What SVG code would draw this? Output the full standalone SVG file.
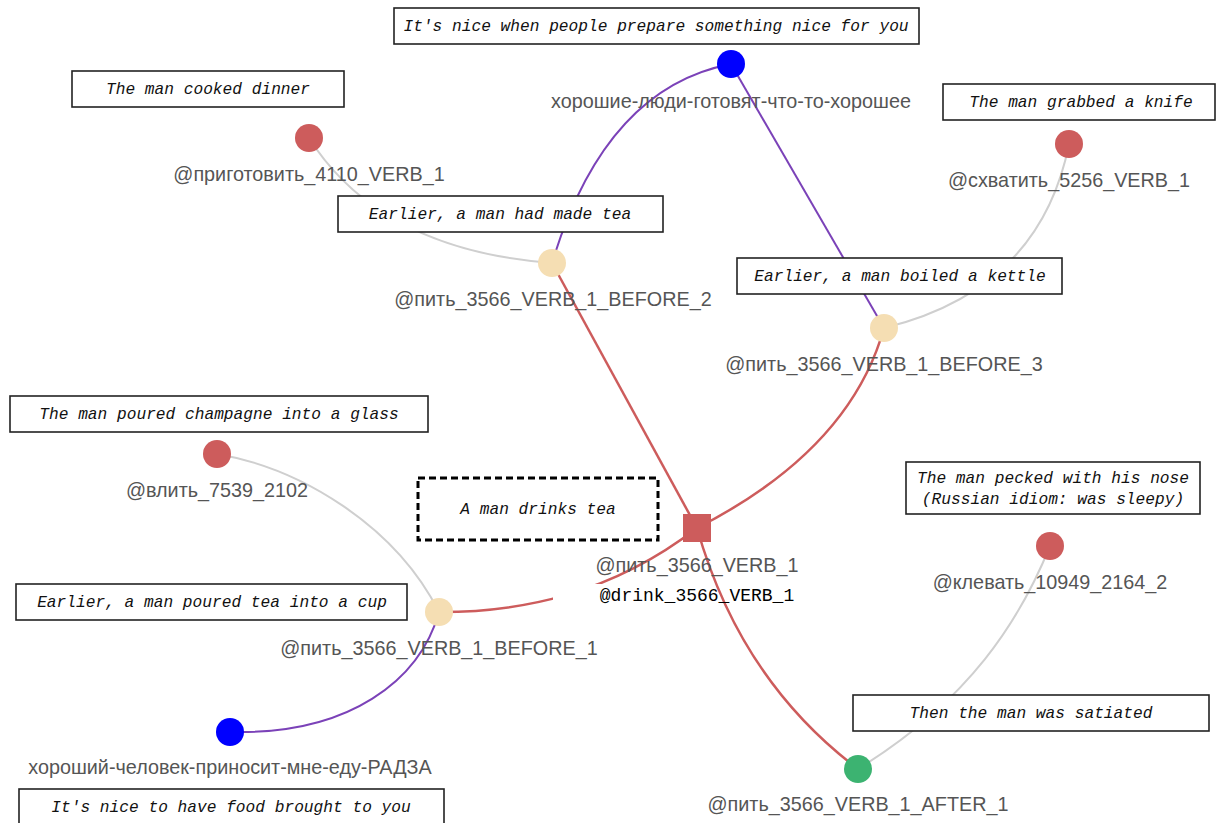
<svg xmlns="http://www.w3.org/2000/svg" width="1216" height="823" viewBox="0 0 1216 823">
  <style>
    .lbl { font-family: "Liberation Sans", Arial, sans-serif; font-size: 19.8px; fill: #555; text-anchor: middle; }
    .note rect { fill: #fff; stroke: #222; stroke-width: 1.6; }
    .note text { font-family: "Liberation Mono", "DejaVu Sans Mono", monospace; font-style: italic; font-size: 16.2px; fill: #111; text-anchor: middle; }
    .note.dashed rect { stroke: #000; stroke-width: 3; stroke-dasharray: 7 4; }
    .e-red { fill: none; stroke: #cd5c5c; stroke-width: 2.5; }
    .e-purple { fill: none; stroke: #7b42b8; stroke-width: 2; }
    .e-gray { fill: none; stroke: #cfcfcf; stroke-width: 2; }
    .n-red { fill: #cd5c5c; }
    .n-beige { fill: #f5deb3; }
    .n-blue { fill: #0000ff; }
    .n-green { fill: #3cb371; }
  </style>
  <rect width="1216" height="823" fill="#fff"/>

  <!-- connectors -->
  <g id="edges">
    <path class="e-gray" d="M309,138 Q380,250 552,263"/>
    <path class="e-gray" d="M1069,144 Q1040,290 884,328"/>
    <path class="e-gray" d="M217,454 C300,468 395,525 439,612"/>
    <path class="e-gray" d="M1050,546 C1020,620 970,700 858,769"/>
    <path class="e-purple" d="M731,64 Q605,88 552,263"/>
    <path class="e-purple" d="M731,64 L884,328"/>
    <path class="e-purple" d="M439,612 C420,680 350,735 230,732"/>
    <path class="e-red" d="M697,528 L552,263"/>
    <path class="e-red" d="M697,528 Q850,450 884,328"/>
    <path class="e-red" d="M440,612 C520,612 610,595 697,528"/>
    <path class="e-red" d="M697,528 Q740,680 858,769"/>
  </g>

  <!-- nodes -->
  <g id="node-people-prepare">
    <circle class="n-blue" cx="731" cy="64" r="14"/>
    <text class="lbl" x="731" y="108">хорошие-люди-готовят-что-то-хорошее</text>
  </g>
  <g id="node-prigotovit">
    <circle class="n-red" cx="309" cy="138" r="14"/>
    <text class="lbl" x="309" y="181">@приготовить_4110_VERB_1</text>
  </g>
  <g id="node-skhvatit">
    <circle class="n-red" cx="1069" cy="144" r="14"/>
    <text class="lbl" x="1069" y="187">@схватить_5256_VERB_1</text>
  </g>
  <g id="node-before-2">
    <circle class="n-beige" cx="552" cy="263" r="14"/>
    <text class="lbl" x="553" y="306">@пить_3566_VERB_1_BEFORE_2</text>
  </g>
  <g id="node-before-3">
    <circle class="n-beige" cx="884" cy="328" r="14"/>
    <text class="lbl" x="884" y="371">@пить_3566_VERB_1_BEFORE_3</text>
  </g>
  <g id="node-vlit">
    <circle class="n-red" cx="217" cy="454" r="14"/>
    <text class="lbl" x="217" y="497">@влить_7539_2102</text>
  </g>
  <g id="node-pit">
    <rect x="683" y="514" width="28" height="28" fill="#cd5c5c"/>
    <text class="lbl" x="697" y="572">@пить_3566_VERB_1</text>
    <rect x="553" y="584" width="145" height="28" fill="#fff"/>
    <text x="697" y="601" font-family="'Liberation Mono', 'DejaVu Sans Mono', monospace" font-size="18" fill="#000" text-anchor="middle">@drink_3566_VERB_1</text>
  </g>
  <g id="node-klevat">
    <circle class="n-red" cx="1050" cy="546" r="14"/>
    <text class="lbl" x="1050" y="589">@клевать_10949_2164_2</text>
  </g>
  <g id="node-before-1">
    <circle class="n-beige" cx="439" cy="612" r="14"/>
    <text class="lbl" x="439" y="655">@пить_3566_VERB_1_BEFORE_1</text>
  </g>
  <g id="node-food-brought">
    <circle class="n-blue" cx="230" cy="732" r="14"/>
    <text class="lbl" x="230" y="774">хороший-человек-приносит-мне-еду-РАДЗА</text>
  </g>
  <g id="node-after-1">
    <circle class="n-green" cx="858" cy="769" r="14"/>
    <text class="lbl" x="858" y="811">@пить_3566_VERB_1_AFTER_1</text>
  </g>

  <!-- translation notes -->
  <g id="note-people-prepare" class="note">
    <rect x="394" y="8" width="525" height="36"/>
    <text x="656" y="31">It's nice when people prepare something nice for you</text>
  </g>
  <g id="note-cooked" class="note">
    <rect x="72" y="71" width="272" height="36"/>
    <text x="208" y="94">The man cooked dinner</text>
  </g>
  <g id="note-made-tea" class="note">
    <rect x="338" y="196" width="325" height="36"/>
    <text x="500" y="219">Earlier, a man had made tea</text>
  </g>
  <g id="note-knife" class="note">
    <rect x="943" y="84" width="272" height="36"/>
    <text x="1081" y="107">The man grabbed a knife</text>
  </g>
  <g id="note-kettle" class="note">
    <rect x="737" y="258" width="325" height="36"/>
    <text x="900" y="281">Earlier, a man boiled a kettle</text>
  </g>
  <g id="note-champagne" class="note">
    <rect x="10" y="396" width="418" height="36"/>
    <text x="219" y="419">The man poured champagne into a glass</text>
  </g>
  <g id="note-drinks" class="note dashed">
    <rect x="418" y="478" width="240" height="62"/>
    <text x="538" y="514">A man drinks tea</text>
  </g>
  <g id="note-pecked" class="note">
    <rect x="906" y="462" width="294" height="52"/>
    <text x="1053" y="483">The man pecked with his nose</text>
    <text x="1053" y="504">(Russian idiom: was sleepy)</text>
  </g>
  <g id="note-poured-tea" class="note">
    <rect x="16" y="584" width="391" height="36"/>
    <text x="212" y="607">Earlier, a man poured tea into a cup</text>
  </g>
  <g id="note-satiated" class="note">
    <rect x="853" y="695" width="356" height="36"/>
    <text x="1031" y="718">Then the man was satiated</text>
  </g>
  <g id="note-food-brought" class="note">
    <rect x="19" y="789" width="425" height="40"/>
    <text x="231" y="812">It's nice to have food brought to you</text>
  </g>
</svg>
